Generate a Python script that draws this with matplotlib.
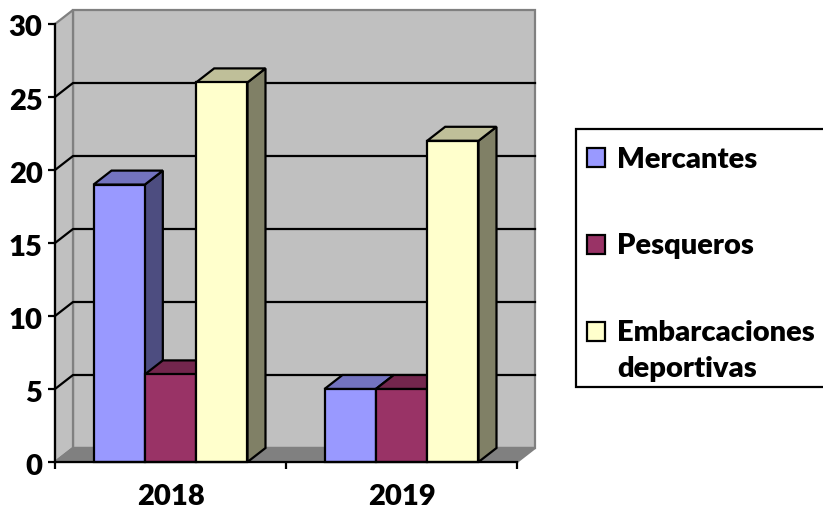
import matplotlib
matplotlib.use('Agg')
import numpy as np
import matplotlib.pyplot as plt
from matplotlib.patches import Polygon, Patch, Rectangle
from matplotlib.transforms import ScaledTranslation

plt.rcParams['font.family'] = ['Lato', 'DejaVu Sans']

years = ['2018', '2019']
series_names = ['Mercantes', 'Pesqueros', 'Embarcaciones\ndeportivas']
values = [[19, 5], [6, 5], [26, 22]]
y_ticks = [0, 5, 10, 15, 20, 25, 30]

front_colors = ['#9999FF', '#993366', '#FFFFCC']
top_colors = ['#7373BF', '#73264D', '#BFBF99']
side_colors = ['#4D4D80', '#4D1A33', '#808066']

W, H = 823, 511
# depth of the fake 3d box, in data units
DEPTH_X = 18 / 231
DEPTH_Y = 14 / 14.6
BAR_W = 0.2222
LINE_W = 1.6
FONT_SIZE = 21


def poly(ax, pts, color, edge='black', zorder=2):
    ax.add_patch(Polygon(pts, closed=True, facecolor=color, edgecolor=edge,
                         linewidth=LINE_W, clip_on=False, zorder=zorder, joinstyle='miter'))


def draw_box(ax, x0, x1, top, colors):
    front, roof, side = colors
    dx, dy = DEPTH_X, DEPTH_Y
    poly(ax, [(x1, 0), (x1 + dx, dy), (x1 + dx, top + dy), (x1, top)], side)
    poly(ax, [(x0, top), (x1, top), (x1 + dx, top + dy), (x0 + dx, top + dy)], roof)
    poly(ax, [(x0, 0), (x1, 0), (x1, top), (x0, top)], front)


fig = plt.figure(figsize=(W / 100, H / 100), dpi=100)
ax = fig.add_axes([55 / W, (H - 462) / H, 462 / W, 438 / H])
ax.set_xlim(0, 2)
ax.set_ylim(0, 30)
ax.patch.set_visible(False)

# walls and floor
poly(ax, [(DEPTH_X, DEPTH_Y), (2 + DEPTH_X, DEPTH_Y), (2 + DEPTH_X, 30 + DEPTH_Y), (DEPTH_X, 30 + DEPTH_Y)],
     '#C0C0C0', edge='#808080', zorder=1)
poly(ax, [(0, 0), (DEPTH_X, DEPTH_Y), (DEPTH_X, 30 + DEPTH_Y), (0, 30)], '#C0C0C0', edge='#808080', zorder=1)
poly(ax, [(0, 0), (2, 0), (2 + DEPTH_X, DEPTH_Y), (DEPTH_X, DEPTH_Y)], '#808080', edge='#808080', zorder=1)

for t in y_ticks[1:-1]:
    ax.plot([0, DEPTH_X, 2 + DEPTH_X], [t, t + DEPTH_Y, t + DEPTH_Y], color='black', lw=LINE_W,
            clip_on=False, zorder=1.5)

for c in range(len(years)):
    left = c + 0.5 - 1.5 * BAR_W
    for s in range(len(series_names)):
        draw_box(ax, left + s * BAR_W, left + (s + 1) * BAR_W, values[s][c],
                 (front_colors[s], top_colors[s], side_colors[s]))

for name in ['top', 'right']:
    ax.spines[name].set_visible(False)
for name in ['left', 'bottom']:
    ax.spines[name].set_linewidth(LINE_W)
    ax.spines[name].set_zorder(3)

ax.set_yticks(y_ticks)
ax.set_xticks([0, 1, 2])
ax.set_xticklabels([])
ax.set_xticks([0.5, 1.5], minor=True)
ax.set_xticklabels(years, minor=True, fontsize=FONT_SIZE, fontweight='heavy')
ax.tick_params(axis='x', which='minor', length=0, pad=16)
ax.tick_params(axis='x', which='major', length=5, width=LINE_W)
ax.tick_params(axis='y', length=5, width=LINE_W, pad=4, labelsize=FONT_SIZE)
shift_down = ScaledTranslation(0, -2 / 100, fig.dpi_scale_trans)
for label in ax.get_yticklabels():
    label.set_fontweight('heavy')
    label.set_transform(label.get_transform() + shift_down)

# legend box runs off the right side of the picture
fig.add_artist(Rectangle((576 / W, (H - 387) / H), 260 / W, 258 / H, transform=fig.transFigure,
                         facecolor='white', edgecolor='black', linewidth=LINE_W))
handles = [Patch(facecolor=front_colors[i], edgecolor='black', linewidth=LINE_W) for i in range(3)]
leg = fig.legend(handles, series_names, loc='upper left', bbox_to_anchor=(587 / W, 1 - 147 / H),
                 borderaxespad=0, frameon=False,
                 prop={'size': FONT_SIZE, 'weight': 'heavy'}, labelspacing=2.07, handlelength=0.62, handleheight=0.62,
                 handletextpad=0.42, borderpad=0)
leg.get_texts()[2].set_linespacing(1.48)
# the swatch of the two line label sits on its first line
leg.get_patches()[2].set_y(leg.get_patches()[2].get_y() + 14)

plt.savefig('out.png', dpi=100)
